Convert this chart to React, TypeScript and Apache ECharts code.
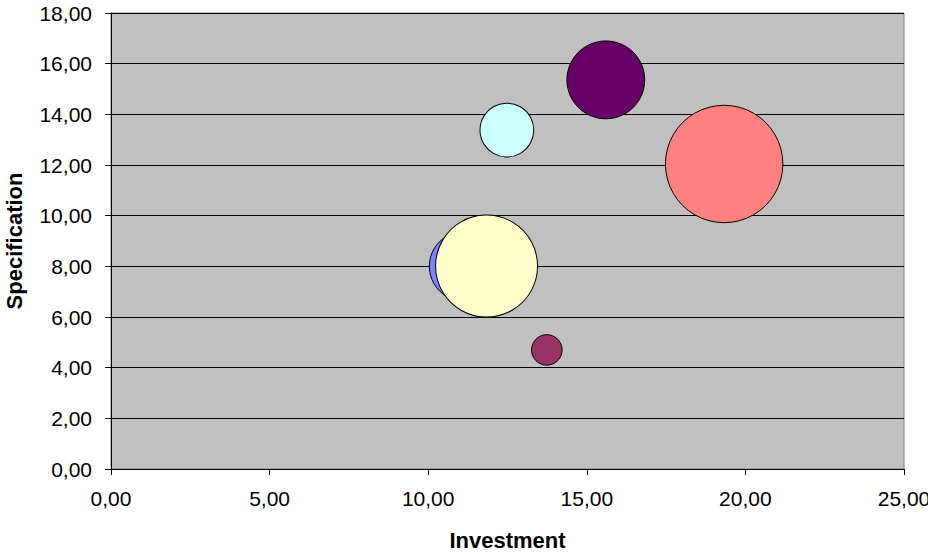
import React, { useEffect, useRef } from "react";
import * as echarts from "echarts";

const investment = [15.6, 19.33, 12.48, 11.13, 11.84, 13.74];
const specification = [15.36, 12.04, 13.38, 8.0, 8.01, 4.7];
const bubbleSize = [4.4, 10.0, 2.1, 3.5, 7.55, 0.68];
const bubbleColors = ["#660066", "#FF8080", "#CCFFFF", "#8080FF", "#FFFFCC", "#993366"];
const xTicks = [0, 5, 10, 15, 20, 25];
const yTicks = [0, 2, 4, 6, 8, 10, 12, 14, 16, 18];

const FONT = "'Liberation Sans', Arial, sans-serif";
const fmt = (v: number) => v.toFixed(2).replace(".", ",");

export default function App() {
  const ref = useRef<HTMLDivElement>(null);
  useEffect(() => {
    if (!ref.current) return;
    const chart = echarts.init(ref.current, null, { renderer: "svg" });
    const maxSize = Math.max(...bubbleSize);
    const maxDiameter = 117.4;
    const data = investment.map((x, i) => ({
      value: [x, specification[i], bubbleSize[i]],
      itemStyle: { color: bubbleColors[i] },
    }));
    chart.setOption({
      animation: false,
      backgroundColor: "#FFFFFF",
      grid: {
        left: 111,
        right: 24,
        top: 13,
        bottom: 85,
        containLabel: false,
        outerBoundsMode: "none",
        show: true,
        backgroundColor: "#C0C0C0",
        borderColor: "#808080",
        borderWidth: 1,
      },
      xAxis: {
        type: "value",
        min: xTicks[0],
        max: xTicks[xTicks.length - 1],
        interval: 5,
        name: "Investment",
        nameLocation: "middle",
        nameGap: 60,
        nameTextStyle: { fontFamily: FONT, fontSize: 22, fontWeight: "bold", color: "#000" },
        axisLine: { show: true, lineStyle: { color: "#000", width: 1 } },
        axisTick: { show: true, length: 6, lineStyle: { color: "#000" } },
        axisLabel: {
          margin: 19,
          fontFamily: FONT,
          fontSize: 21,
          color: "#000",
          formatter: (v: number) => fmt(v),
        },
        splitLine: { show: false },
      },
      yAxis: {
        type: "value",
        min: yTicks[0],
        max: yTicks[yTicks.length - 1],
        interval: 2,
        name: "Specification",
        nameLocation: "middle",
        nameGap: 86,
        nameTextStyle: { fontFamily: FONT, fontSize: 22, fontWeight: "bold", color: "#000" },
        axisLine: { show: true, lineStyle: { color: "#000", width: 1 } },
        axisTick: { show: true, length: 6, lineStyle: { color: "#000" } },
        axisLabel: {
          margin: 19,
          fontFamily: FONT,
          fontSize: 21,
          color: "#000",
          formatter: (v: number) => fmt(v),
        },
        splitLine: { show: true, lineStyle: { color: "#000", width: 1 } },
      },
      series: [
        {
          type: "scatter",
          data,
          symbol: "circle",
          symbolSize: (val: number[]) => Math.sqrt(val[2] / maxSize) * maxDiameter,
          itemStyle: { borderColor: "#000", borderWidth: 1, opacity: 1 },
          emphasis: { disabled: true },
        },
      ],
    });
    return () => chart.dispose();
  }, []);
  return (
    <div
      ref={ref}
      style={{ position: "fixed", left: 0, top: 0, width: 928, height: 554 }}
    />
  );
}
